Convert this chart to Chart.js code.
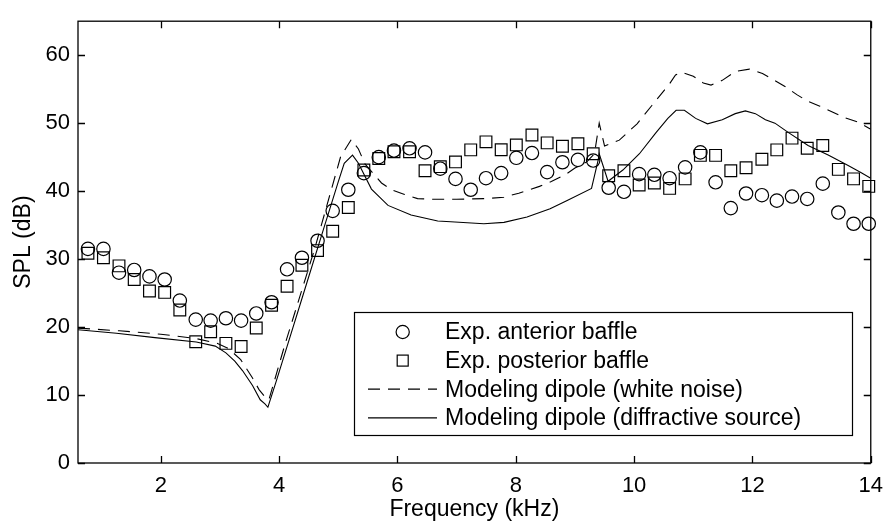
<!DOCTYPE html>
<html>
<head>
<meta charset="utf-8">
<script src="https://cdn.jsdelivr.net/npm/chart.js@4.4.1/dist/chart.umd.min.js"></script>
<style>
  html, body { margin: 0; padding: 0; background: #fff; }
  #wrap { width: 893px; height: 527px; }
</style>
</head>
<body>
<div id="wrap"><canvas id="spl" width="893" height="527"></canvas></div>
<script>
// ---------- data ----------
const expFreq = [0.768, 1.030, 1.293, 1.550, 1.808, 2.065, 2.321, 2.590, 2.842, 3.100,
  3.357, 3.613, 3.872, 4.134, 4.385, 4.649, 4.905, 5.169, 5.432, 5.684,
  5.941, 6.204, 6.466, 6.724, 6.981, 7.238, 7.496, 7.753, 8.009, 8.273,
  8.530, 8.788, 9.050, 9.308, 9.570, 9.828, 10.085, 10.342, 10.600, 10.862,
  11.120, 11.377, 11.634, 11.892, 12.160, 12.412, 12.669, 12.926, 13.189, 13.452,
  13.709, 13.966];

const anterior = [31.5, 31.5, 28.0, 28.4, 27.45, 27.0, 23.9, 21.1, 20.95, 21.3,
  20.95, 22.0, 23.65, 28.5, 30.2, 32.7, 37.1, 40.2, 42.65, 45.0,
  45.97, 46.3, 45.7, 43.3, 41.8, 40.2, 41.9, 42.65, 44.9, 45.6,
  42.8, 44.25, 44.6, 44.5, 40.5, 39.9, 42.5, 42.4, 41.9, 43.5,
  45.7, 41.3, 37.5, 39.65, 39.4, 38.6, 39.2, 38.85, 41.1, 36.85,
  35.2, 35.2];

const posterior = [30.87, 30.2, 29.0, 27.0, 25.3, 25.1, 22.5, 17.85, 19.3, 17.6,
  17.15, 19.85, 23.2, 26.0, 29.1, 31.25, 34.1, 37.6, 43.1, 44.8,
  45.8, 45.8, 43.0, 43.6, 44.3, 46.07, 47.25, 46.1, 46.8, 48.25,
  47.1, 46.6, 46.97, 45.5, 42.26, 43.0, 40.9, 41.2, 40.4, 41.8,
  45.26, 45.26, 43.0, 43.45, 44.7, 46.07, 47.8, 46.3, 46.7, 43.2,
  41.8, 40.7];

// modeling dipole, white noise (dashed)
const noiseFreq = [0.6, 1.3, 2.0, 2.6, 2.95, 3.15, 3.35, 3.55, 3.66, 3.8,
  3.83, 4.1, 4.6, 5.04, 5.22, 5.34, 5.45, 5.73, 5.9, 6.12,
  6.34, 6.6, 7.0, 7.5, 7.8, 8.05, 8.4, 8.6, 8.85, 9.0,
  9.2, 9.33, 9.41, 9.5, 9.75, 10.05, 10.3, 10.45, 10.6, 10.7,
  10.8, 11.0, 11.17, 11.3, 11.49, 11.71, 11.95, 12.17, 12.35, 12.55,
  12.75, 12.94, 13.14, 13.36, 13.56, 13.8, 14.0];
const noiseSpl = [19.85, 19.45, 18.95, 18.3, 17.6, 16.8, 15.2, 12.5, 10.8, 9.3,
  9.4, 17.5, 31.5, 45.1, 47.6, 46.2, 44.0, 41.2, 40.2, 39.5,
  38.9, 38.8, 38.8, 38.9, 39.1, 39.7, 40.7, 41.4, 42.5, 43.4,
  44.3, 45.5, 50.0, 46.65, 47.5, 49.9, 52.6, 54.2, 55.8, 57.1,
  57.5, 56.9, 55.9, 55.6, 56.3, 57.6, 57.95, 57.3, 56.4, 55.4,
  54.2, 53.2, 52.5, 51.6, 50.8, 50.1, 49.1];

// modeling dipole, diffractive source (solid)
const diffFreq = [0.6, 1.25, 1.9, 2.6, 2.92, 3.1, 3.25, 3.38, 3.55, 3.68,
  3.76, 3.81, 3.95, 4.15, 4.45, 4.75, 5.0, 5.1, 5.24, 5.34,
  5.56, 5.84, 6.23, 6.68, 6.9, 7.46, 7.8, 8.19, 8.58, 8.86,
  9.28, 9.39, 9.41, 9.56, 9.81, 10.09, 10.37, 10.57, 10.71, 10.85,
  11.04, 11.24, 11.49, 11.71, 11.88, 12.05, 12.22, 12.38, 12.61, 12.94,
  13.28, 13.61, 13.84, 14.0];
const diffSpl = [19.6, 19.1, 18.45, 17.8, 17.2, 16.2, 15.0, 13.6, 11.4, 9.3,
  8.7, 8.2, 12.0, 17.6, 26.0, 34.4, 41.4, 44.1, 45.3, 44.1,
  40.3, 37.9, 36.5, 35.6, 35.5, 35.2, 35.4, 36.2, 37.4, 38.6,
  40.4, 44.5, 45.5, 41.45, 43.1, 45.5, 48.6, 50.7, 51.9, 51.9,
  50.7, 49.9, 50.5, 51.4, 51.8, 51.4, 50.5, 50.0, 48.6, 46.7,
  45.3, 43.8, 42.7, 41.9];

const xTicks = [2, 4, 6, 8, 10, 12, 14];
const yTicks = [0, 10, 20, 30, 40, 50, 60];

const legendLabels = [
  'Exp. anterior baffle',
  'Exp. posterior baffle',
  'Modeling dipole (white noise)',
  'Modeling dipole (diffractive source)'
];

// ---------- helpers ----------
const FONT = "'Liberation Sans', Arial, Helvetica, sans-serif";
const pairs = (xs, ys) => xs.map((x, i) => ({ x: x, y: ys[i] }));
const DASH = [12, 8];

// frame, inward ticks (matlab style) and the legend box
const axesBox = {
  id: 'axesBox',
  afterDatasetsDraw(chart) {
    const ctx = chart.ctx;
    const a = chart.chartArea;
    const xs = chart.scales.x, ys = chart.scales.y;
    const tl = 7;
    ctx.save();
    ctx.strokeStyle = '#000';
    ctx.lineWidth = 1.3;
    ctx.setLineDash([]);
    ctx.beginPath();
    xTicks.forEach(v => {
      const px = Math.round(xs.getPixelForValue(v)) + 0.5;
      ctx.moveTo(px, a.bottom); ctx.lineTo(px, a.bottom - tl);
      ctx.moveTo(px, a.top); ctx.lineTo(px, a.top + tl);
    });
    yTicks.forEach(v => {
      const py = Math.round(ys.getPixelForValue(v)) + 0.5;
      ctx.moveTo(a.left, py); ctx.lineTo(a.left + tl, py);
      ctx.moveTo(a.right, py); ctx.lineTo(a.right - tl, py);
    });
    ctx.stroke();
    ctx.strokeRect(a.left, a.top, a.right - a.left, a.bottom - a.top);

    // legend
    const lx = 354.5, ly = 312.5, lw = 498, lh = 123;
    ctx.fillStyle = '#fff';
    ctx.fillRect(lx, ly, lw, lh);
    ctx.lineWidth = 1.2;
    ctx.strokeRect(lx, ly, lw, lh);
    const symX = 402.7, textX = 445;
    ctx.font = '23px ' + FONT;
    ctx.fillStyle = '#000';
    ctx.textBaseline = 'middle';
    ctx.textAlign = 'left';
    legendLabels.forEach((lab, i) => {
      const cy = ly + 19.5 + i * 28.6;
      ctx.beginPath();
      if (i === 0) {
        ctx.arc(symX, cy, 6.6, 0, Math.PI * 2);
        ctx.stroke();
      } else if (i === 1) {
        ctx.strokeRect(symX - 5.5, cy - 5.5, 11, 11);
      } else {
        ctx.setLineDash(i === 2 ? DASH : []);
        ctx.moveTo(368, cy); ctx.lineTo(437, cy);
        ctx.stroke();
        ctx.setLineDash([]);
      }
      ctx.fillText(lab, textX, cy + 1);
    });
    ctx.restore();
  }
};

const markerStyle = {
  showLine: false,
  borderColor: '#000',
  backgroundColor: 'rgba(0,0,0,0)',
  borderWidth: 1.2,
  pointHoverRadius: 0,
  clip: false
};

new Chart(document.getElementById('spl'), {
  type: 'scatter',
  data: {
    datasets: [
      Object.assign({ label: legendLabels[0], data: pairs(expFreq, anterior),
        pointStyle: 'circle', pointRadius: 6.7 }, markerStyle),
      Object.assign({ label: legendLabels[1], data: pairs(expFreq, posterior),
        pointStyle: 'rect', pointRadius: 8.3 }, markerStyle),
      { label: legendLabels[2], data: pairs(noiseFreq, noiseSpl), showLine: true,
        borderColor: '#000', borderWidth: 1.1, borderDash: DASH, pointRadius: 0,
        tension: 0, fill: false },
      { label: legendLabels[3], data: pairs(diffFreq, diffSpl), showLine: true,
        borderColor: '#000', borderWidth: 1.1, pointRadius: 0, tension: 0, fill: false }
    ]
  },
  options: {
    responsive: false,
    animation: false,
    devicePixelRatio: 1,
    layout: { padding: { top: 7, right: 17, left: 0, bottom: 0 } },
    plugins: { legend: { display: false }, tooltip: { enabled: false } },
    scales: {
      x: {
        type: 'linear', min: 0.6, max: 14,
        afterBuildTicks: s => { s.ticks = xTicks.map(v => ({ value: v })); },
        afterFit: s => { s.height = 64; },
        grid: { display: false, drawTicks: false },
        border: { display: false },
        ticks: { color: '#000', padding: 10, maxRotation: 0, font: { family: FONT, size: 22 } },
        title: { display: true, text: 'Frequency (kHz)', color: '#000',
          padding: { top: 0, bottom: 4 }, font: { family: FONT, size: 23 } }
      },
      y: {
        type: 'linear', min: 0, max: 65,
        afterBuildTicks: s => { s.ticks = yTicks.map(v => ({ value: v })); },
        afterFit: s => { s.width = 78; },
        grid: { display: false, drawTicks: false },
        border: { display: false },
        ticks: { color: '#000', padding: 8, font: { family: FONT, size: 22 } },
        title: { display: true, text: 'SPL (dB)', color: '#000',
          padding: { top: 10, bottom: 0 }, font: { family: FONT, size: 23 } }
      }
    }
  },
  plugins: [axesBox]
});
</script>
</body>
</html>
